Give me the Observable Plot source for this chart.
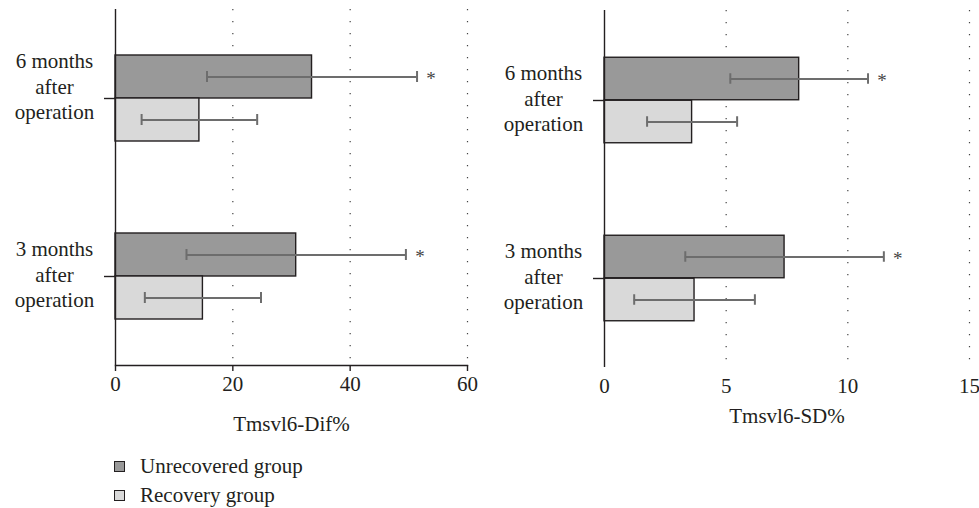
<!DOCTYPE html>
<html>
<head>
<meta charset="utf-8">
<script src="https://cdn.jsdelivr.net/npm/d3@7"></script>
<script src="https://cdn.jsdelivr.net/npm/@observablehq/plot@0.6"></script>
<style>
  html, body { margin: 0; padding: 0; background: #fff; }
  #wrap { position: relative; width: 979px; height: 508px; font-family: "Liberation Serif", "DejaVu Serif", serif; color: #231f20; }
  #left { position: absolute; left: 0; top: 0; }
  #right { position: absolute; left: 490px; top: 0; }
  #legend { position: absolute; left: 114px; top: 452px; font-size: 21px; }
  .row { display: flex; align-items: center; height: 29px; }
  .sw { width: 9px; height: 9px; border: 1px solid #231f20; margin-right: 15px; }
</style>
</head>
<body>
<div id="wrap">
  <div id="left"></div>
  <div id="right"></div>
  <div id="legend"></div>
</div>
<script>
// ---- data ----
const periods = ["6 months after operation", "3 months after operation"];
const periodLabels = ["6 months\nafter\noperation", "3 months\nafter\noperation"];
const groups = ["Unrecovered group", "Recovery group"];
const groupColors = ["#999999", "#d9d9d9"];

// Tmsvl6-Dif%
const difUnrecMean = [33.5, 30.8];
const difUnrecSD = [17.9, 18.7];
const difRecMean = [14.3, 14.9];
const difRecSD = [9.85, 9.9];

// Tmsvl6-SD%
const sdUnrecMean = [8.0, 7.4];
const sdUnrecSD = [2.83, 4.08];
const sdRecMean = [3.6, 3.7];
const sdRecSD = [1.85, 2.48];

const significant = [true, true]; // * on unrecovered group
const difTicks = [0, 20, 40, 60];
const sdTicks = [0, 5, 10, 15];

function rows(uMean, uSD, rMean, rSD) {
  return periods.flatMap((p, i) => [
    {period: p, label: periodLabels[i], group: groups[0], mean: uMean[i], sd: uSD[i], sig: significant[i]},
    {period: p, label: periodLabels[i], group: groups[1], mean: rMean[i], sd: rSD[i], sig: false}
  ]);
}

const ink = "#231f20";
const errColor = "#6d6d6d";

function panel({data, ticks, label, width, marginLeft, marginRight, marginTop, marginBottom, height, xLine, labelShift, labelOffset}) {
  const U = data.filter(d => d.group === groups[0]);
  const R = data.filter(d => d.group === groups[1]);
  const step = (height - marginTop - marginBottom) / 2;
  const half = step / 2;
  const barH = 43;
  const cap = 11;
  const ins = (offset) => ({insetTop: half + offset - cap / 2, insetBottom: step - (half + offset + cap / 2)});
  const errMarks = (rowsG, off) => [
    Plot.ruleY(rowsG, {y: "period", x1: d => d.mean - d.sd, x2: d => d.mean + d.sd, dy: off, stroke: errColor, strokeWidth: 2}),
    Plot.tickX(rowsG, {x: d => d.mean - d.sd, y: "period", ...ins(off), stroke: errColor, strokeWidth: 2}),
    Plot.tickX(rowsG, {x: d => d.mean + d.sd, y: "period", ...ins(off), stroke: errColor, strokeWidth: 2})
  ];
  const labelsData = periods.map((p, i) => ({period: p, label: periodLabels[i]}));
  const labelOpts = {y: "period", text: "label", frameAnchor: "left", dx: -61, textAnchor: "middle", lineAnchor: "middle", lineHeight: 1.2, fontSize: 21, fill: ink};
  return Plot.plot({
    width, height, marginLeft, marginRight, marginTop, marginBottom,
    style: {fontFamily: '"Liberation Serif", serif', fontSize: "21px", color: ink, background: "#fff"},
    x: {domain: [ticks[0], ticks[ticks.length - 1]]},
    y: {type: "band", domain: periods, padding: 0},
    marks: [
      Plot.gridX(ticks.slice(1), {stroke: "#444", strokeOpacity: 1, strokeWidth: 1.2, strokeDasharray: "1.2,10.8"}),
      Plot.barX(U, {x: "mean", y: "period", fill: groupColors[0], stroke: ink, strokeWidth: 1.4, insetTop: half - barH, insetBottom: half}),
      Plot.barX(R, {x: "mean", y: "period", fill: groupColors[1], stroke: ink, strokeWidth: 1.4, insetTop: half, insetBottom: half - barH}),
      ...errMarks(U, -barH / 2),
      ...errMarks(R, barH / 2),
      Plot.text(U.filter(d => d.sig), {x: d => d.mean + d.sd, y: "period", text: () => "*", dx: 14, dy: -barH / 2 + 2, fontSize: 19, fill: "#444"}),
      Plot.ruleX([0], {stroke: ink, strokeWidth: 1.4}),
      ...(xLine ? [Plot.frame({anchor: "bottom", stroke: ink, strokeWidth: 1.4})] : []),
      Plot.axisY({tickSize: 11, tickFormat: () => "", label: null, stroke: ink, strokeWidth: 1.4}),
      Plot.text(labelsData.slice(0, 1), {...labelOpts, dy: labelShift - 3}),
      Plot.text(labelsData.slice(1), {...labelOpts, dy: -3}),
      Plot.axisX(ticks, {tickSize: xLine ? 6 : 0, tickPadding: xLine ? 5 : 11, stroke: ink, strokeWidth: 1.4, fontSize: 21, fill: ink,
        label, labelAnchor: "center", labelOffset, labelArrow: "none"})
    ]
  });
}

document.getElementById("left").append(panel({
  data: rows(difUnrecMean, difUnrecSD, difRecMean, difRecSD), ticks: difTicks, label: "Tmsvl6-Dif%",
  width: 490, height: 440, marginLeft: 115, marginRight: 23, marginTop: 9, marginBottom: 75, xLine: true, labelShift: -10, labelOffset: 65
}));
document.getElementById("right").append(panel({
  data: rows(sdUnrecMean, sdUnrecSD, sdRecMean, sdRecSD), ticks: sdTicks, label: "Tmsvl6-SD%",
  width: 489, height: 440, marginLeft: 114, marginRight: 10, marginTop: 10, marginBottom: 73, xLine: false, labelShift: 0, labelOffset: 55
}));

const legend = document.getElementById("legend");
groups.forEach((g, i) => {
  const row = document.createElement("div");
  row.className = "row";
  const sw = document.createElement("div");
  sw.className = "sw";
  sw.style.background = groupColors[i];
  const t = document.createElement("span");
  t.textContent = g;
  row.append(sw, t);
  legend.append(row);
});
</script>
</body>
</html>
